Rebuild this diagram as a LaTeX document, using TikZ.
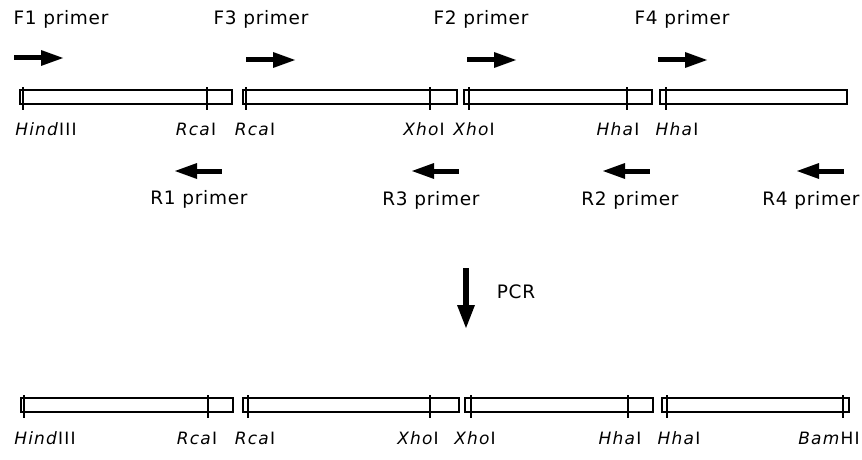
\documentclass[tikz,border=0pt]{standalone}
\usepackage{fontspec}
\setmainfont{DejaVu Sans}
\begin{document}
\begin{tikzpicture}[x=1pt,y=-1pt,
  frag/.style={line width=1.4pt},
  site/.style={line width=1.8pt},
  primertxt/.style={font=\fontsize{18.5}{20}\selectfont\addfontfeatures{LetterSpace=4}, inner sep=0pt},
  sitetxt/.style={font=\fontsize{17}{19}\selectfont\addfontfeatures{LetterSpace=7}, inner sep=0pt},
  arrowfill/.style={fill=black, draw=none}
]
\useasboundingbox (0,0) rectangle (862,460);

% forward primer arrow: shaft then head, pointing right
\newcommand{\fwdarrow}[2]{%
  \fill[arrowfill] (#1,#2-2.5) rectangle (#1+29,#2+2.5);
  \fill[arrowfill] (#1+27,#2-8) -- (#1+49,#2) -- (#1+27,#2+8) -- cycle;}
% reverse primer arrow: head then shaft, pointing left
\newcommand{\revarrow}[2]{%
  \fill[arrowfill] (#1+20,#2-2.5) rectangle (#1+47,#2+2.5);
  \fill[arrowfill] (#1+22,#2-8) -- (#1,#2) -- (#1+22,#2+8) -- cycle;}
% a DNA fragment as an open box
\newcommand{\fragbox}[3]{\draw[frag] (#1,#3) rectangle (#2,#3+14);}
% a restriction site tick across a fragment
\newcommand{\sitetick}[2]{\draw[site] (#1,#2-3) -- (#1,#2+20);}

% ---------- fragments before PCR ----------
\fragbox{20}{232}{90}
\fragbox{243}{457}{90}
\fragbox{464}{652}{90}
\fragbox{660}{847}{90}
\foreach \t in {23,207,246,430,469,627,666} {\sitetick{\t}{90}}

\node[sitetxt] (h1) at (46,129) {\textit{Hind}III};
\node[sitetxt] (r1) at (196,129) {\textit{Rca}I};
\node[sitetxt] (r2) at (255,129) {\textit{Rca}I};
\node[sitetxt] (x1) at (424,129) {\textit{Xho}I};
\node[sitetxt] (x2) at (474,129) {\textit{Xho}I};
\node[sitetxt] (a1) at (618,129) {\textit{Hha}I};
\node[sitetxt] (a2) at (677,129) {\textit{Hha}I};

% forward primers
\node[primertxt] (f1) at (61,19) {F1 primer};
\node[primertxt] (f3) at (261,19) {F3 primer};
\node[primertxt] (f2) at (481,19) {F2 primer};
\node[primertxt] (f4) at (682,19) {F4 primer};
\fwdarrow{14}{58}
\fwdarrow{246}{60}
\fwdarrow{467}{60}
\fwdarrow{658}{60}

% reverse primers
\revarrow{175}{171}
\revarrow{412}{171}
\revarrow{603}{171}
\revarrow{797}{171}
\node[primertxt] (pr1) at (199,199) {R1 primer};
\node[primertxt] (pr3) at (431,200) {R3 primer};
\node[primertxt] (pr2) at (630,200) {R2 primer};
\node[primertxt] (pr4) at (811,200) {R4 primer};

% ---------- PCR step ----------
\fill[arrowfill] (463,268) rectangle (469,308);
\fill[arrowfill] (457,305) -- (475,305) -- (466,328) -- cycle;
\node[primertxt] (pcr) at (516,292) {PCR};

% ---------- fused product ----------
\fragbox{21}{233}{398}
\fragbox{243}{459}{398}
\fragbox{465}{653}{398}
\fragbox{662}{849}{398}
\foreach \t in {24,208,248,430,471,628,667,843} {\sitetick{\t}{398}}

\node[sitetxt] (hb) at (45,438) {\textit{Hind}III};
\node[sitetxt] (rb1) at (197,438) {\textit{Rca}I};
\node[sitetxt] (rb2) at (255,438) {\textit{Rca}I};
\node[sitetxt] (xb1) at (418,438) {\textit{Xho}I};
\node[sitetxt] (xb2) at (475,438) {\textit{Xho}I};
\node[sitetxt] (ab1) at (620,438) {\textit{Hha}I};
\node[sitetxt] (ab2) at (679,438) {\textit{Hha}I};
\node[sitetxt] (bam) at (829,438) {\textit{Bam}HI};
\end{tikzpicture}
\end{document}
